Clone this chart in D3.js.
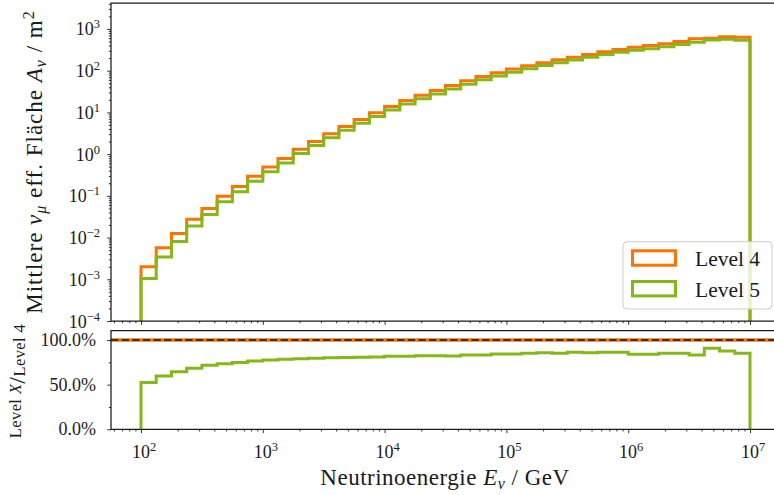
<!DOCTYPE html>
<html><head><meta charset="utf-8">
<script src="https://cdn.jsdelivr.net/npm/d3@7"></script>
<style>
html,body{margin:0;padding:0;background:#fff;}
svg{display:block;}
text{font-family:"Liberation Serif","DejaVu Serif",serif;fill:#1a1a1a;}
</style></head>
<body>
<svg id="chart" width="774" height="495"></svg>
<script>
// ---------- data ----------
const binExponents = [2, 2.125, 2.25, 2.375, 2.5, 2.625, 2.75, 2.875, 3, 3.125, 3.25, 3.375, 3.5, 3.625, 3.75, 3.875,
  4, 4.125, 4.25, 4.375, 4.5, 4.625, 4.75, 4.875, 5, 5.125, 5.25, 5.375, 5.5, 5.625, 5.75, 5.875,
  6, 6.125, 6.25, 6.375, 6.5, 6.625, 6.75, 6.875, 7];
const level4 = [0.0020, 0.0057, 0.0125, 0.0275, 0.050, 0.098, 0.167, 0.294, 0.49, 0.78,
  1.30, 2.02, 3.09, 4.62, 6.8, 9.8, 13.9, 19.4, 25.9, 33.6,
  44.3, 57, 72.6, 89, 109, 131, 155, 182, 210, 244,
  283, 321, 366, 401, 440, 500, 580, 600, 647, 631];
const level5 = [0.00105, 0.0034, 0.00806, 0.0188, 0.0359, 0.0720, 0.125, 0.225, 0.380, 0.611,
  1.028, 1.606, 2.478, 3.719, 5.494, 7.94, 11.36, 15.85, 21.34, 27.69,
  36.41, 47.42, 60.40, 75.03, 91.89, 111.5, 133.0, 154.9, 181.0, 209.4,
  243.9, 276.7, 307.4, 336.8, 374.4, 425.5, 482.6, 544.2, 567.4, 537.0];
const seriesNames = ["Level 4", "Level 5"];
const seriesColors = ["#ff7300", "#84b818"];
const xMajorExp = [2, 3, 4, 5, 6, 7];
const yMajorExp = [-4, -3, -2, -1, 0, 1, 2, 3];
const ratioTicks = [0, 0.5, 1.0];
const ratioMinor = [0.25, 0.75];

const binEdges = binExponents.map(e => Math.pow(10, e));
const ratio = level5.map((v, i) => v / level4[i]);

// ---------- layout ----------
const svg = d3.select("#chart");
const L = 111, R = 775;
const topT = 3, topB = 321;
const botT = 330.7, botB = 429.3;
const ink = "#1a1a1a";

const x = d3.scaleLog().domain([Math.pow(10, 2 - 30 / 121.8), Math.pow(10, 7 + 25 / 121.8)]).range([L, R]);
const yTop = d3.scaleLog().domain([1e-4, Math.pow(10, 3 + 26 / 41.8)]).range([topB, topT]);
const yBot = d3.scaleLinear().domain([0, 1.104]).range([botB, botT]);

const defs = svg.append("defs");
defs.append("clipPath").attr("id", "clipTop").append("rect")
  .attr("x", L).attr("y", topT).attr("width", R - L).attr("height", topB - topT);
defs.append("clipPath").attr("id", "clipBot").append("rect")
  .attr("x", L).attr("y", botT).attr("width", R - L).attr("height", botB - botT);

function stepPoints(vals, yS, base) {
  const pts = [[x(binEdges[0]), base]];
  vals.forEach((v, i) => {
    pts.push([x(binEdges[i]), yS(v)]);
    pts.push([x(binEdges[i + 1]), yS(v)]);
  });
  pts.push([x(binEdges[binEdges.length - 1]), base]);
  return pts;
}
const line = d3.line();

// ---------- top panel ----------
const gTop = svg.append("g").attr("clip-path", "url(#clipTop)");
[level4, level5].forEach((vals, k) => {
  gTop.append("path").attr("d", line(stepPoints(vals, yTop, topB + 10)))
    .attr("fill", "none").attr("stroke", seriesColors[k]).attr("stroke-width", 3)
    .attr("stroke-linejoin", "miter");
});

// ---------- bottom panel ----------
const gBot = svg.append("g").attr("clip-path", "url(#clipBot)");
gBot.append("line").attr("x1", L).attr("x2", R).attr("y1", yBot(1)).attr("y2", yBot(1))
  .attr("stroke", seriesColors[0]).attr("stroke-width", 3.5);
gBot.append("path").attr("d", line(stepPoints(ratio, yBot, yBot(0))))
  .attr("fill", "none").attr("stroke", seriesColors[1]).attr("stroke-width", 3);
gBot.append("line").attr("x1", L).attr("x2", R).attr("y1", yBot(1)).attr("y2", yBot(1))
  .attr("stroke", "#333").attr("stroke-width", 2).attr("stroke-dasharray", "7.4,3.2");

// ---------- axes ----------
const xMajor = xMajorExp.map(e => Math.pow(10, e));
const xMinor = [];
for (let e = 1; e <= 7; e++) for (let m = 2; m <= 9; m++) {
  const v = m * Math.pow(10, e);
  if (v >= x.domain()[0] && v <= x.domain()[1]) xMinor.push(v);
}
const yMajor = yMajorExp.map(e => Math.pow(10, e));
const yMinor = [];
for (let e = -4; e <= 3; e++) for (let m = 2; m <= 9; m++) {
  const v = m * Math.pow(10, e);
  if (v >= yTop.domain()[0] && v <= yTop.domain()[1]) yMinor.push(v);
}

function styleAxis(g) {
  g.select(".domain").remove();
  g.selectAll(".tick line").attr("stroke", ink).attr("stroke-width", 0.9);
}
[topB, botB].forEach(yy => {
  svg.append("g").attr("transform", `translate(0,${yy})`)
    .call(d3.axisBottom(x).tickValues(xMajor).tickSize(3.8).tickFormat("")).call(styleAxis);
  svg.append("g").attr("transform", `translate(0,${yy})`)
    .call(d3.axisBottom(x).tickValues(xMinor).tickSize(2.2).tickFormat("")).call(styleAxis);
});
svg.append("g").attr("transform", `translate(${L},0)`)
  .call(d3.axisLeft(yTop).tickValues(yMajor).tickSize(3.8).tickFormat("")).call(styleAxis);
svg.append("g").attr("transform", `translate(${L},0)`)
  .call(d3.axisLeft(yTop).tickValues(yMinor).tickSize(2.2).tickFormat("")).call(styleAxis);
svg.append("g").attr("transform", `translate(${L},0)`)
  .call(d3.axisLeft(yBot).tickValues(ratioTicks).tickSize(3.8).tickFormat("")).call(styleAxis);
svg.append("g").attr("transform", `translate(${L},0)`)
  .call(d3.axisLeft(yBot).tickValues(ratioMinor).tickSize(2.2).tickFormat("")).call(styleAxis);

// spines
[[topT, topB], [botT, botB]].forEach(([t, b]) => {
  svg.append("path").attr("d", `M${R + 2},${t}H${L}V${b}H${R + 2}`)
    .attr("fill", "none").attr("stroke", ink).attr("stroke-width", 1.25);
});

// tick labels
const tickFs = 18, supFs = 12.5;
function powLabel(g, exp) {
  g.append("tspan").text("10");
  g.append("tspan").attr("dy", -7).attr("font-size", supFs)
    .text(exp < 0 ? "\u2212" + (-exp) : String(exp));
}
xMajorExp.forEach(e => {
  const t = svg.append("text").attr("x", x(Math.pow(10, e)) + 3).attr("y", 458)
    .attr("text-anchor", "middle").attr("font-size", tickFs);
  powLabel(t, e);
});
yMajorExp.forEach(e => {
  const t = svg.append("text").attr("x", 100).attr("y", yTop(Math.pow(10, e)) + 6.5)
    .attr("text-anchor", "end").attr("font-size", tickFs);
  powLabel(t, e);
});
ratioTicks.forEach(v => {
  svg.append("text").attr("x", 96).attr("y", yBot(v) + 6)
    .attr("text-anchor", "end").attr("font-size", tickFs)
    .text(d3.format(".1%")(v));
});

// axis labels
const lblFs = 23;
const xl = svg.append("text").attr("x", 445).attr("y", 485).attr("text-anchor", "middle")
  .attr("font-size", lblFs).attr("letter-spacing", 0.5);
xl.append("tspan").text("Neutrinoenergie ");
xl.append("tspan").attr("font-style", "italic").text("E");
xl.append("tspan").attr("font-style", "italic").attr("font-size", 16).attr("dy", 4).text("\u03bd");
xl.append("tspan").attr("dy", -4).text(" / GeV");

const yl = svg.append("text").attr("transform", `translate(42,${(topT + topB) / 2}) rotate(-90)`)
  .attr("text-anchor", "middle").attr("font-size", lblFs).attr("letter-spacing", 1);
yl.append("tspan").text("Mittlere ");
yl.append("tspan").attr("font-style", "italic").text("\u03bd");
yl.append("tspan").attr("font-style", "italic").attr("font-size", 16).attr("dy", 4).text("\u03bc");
yl.append("tspan").attr("dy", -4).text(" eff. Fläche ");
yl.append("tspan").attr("font-style", "italic").text("A");
yl.append("tspan").attr("font-style", "italic").attr("font-size", 16).attr("dy", 4).text("\u03bd");
yl.append("tspan").attr("dy", -4).text(" / m");
yl.append("tspan").attr("font-size", 16).attr("dy", -8).text("2");

const rl = svg.append("text").attr("transform", `translate(25,${(botT + botB) / 2 + 1}) rotate(-90)`)
  .attr("text-anchor", "middle").attr("font-size", 16.5).attr("letter-spacing", 0.4);
rl.append("tspan").attr("dy", -4).text("Level ");
rl.append("tspan").attr("font-style", "italic").text("X");
rl.append("tspan").attr("font-size", 24).attr("dy", 4).text("/");
rl.append("tspan").attr("dy", 0).text("Level 4");

// legend
const lg = svg.append("g");
lg.append("rect").attr("x", 623).attr("y", 241.7).attr("width", 149).attr("height", 67.3)
  .attr("rx", 4).attr("fill", "#fff").attr("fill-opacity", 0.8)
  .attr("stroke", "#cccccc").attr("stroke-width", 1);
seriesNames.forEach((n, i) => {
  const yy = 249.3 + i * 30.7;
  lg.append("rect").attr("x", 632.5).attr("y", yy + 1.5).attr("width", 43).attr("height", 14.4)
    .attr("fill", "none").attr("stroke", seriesColors[i]).attr("stroke-width", 3);
  lg.append("text").attr("x", 695).attr("y", yy + 17).attr("font-size", 21.5).text(n);
});
</script>
</body></html>
